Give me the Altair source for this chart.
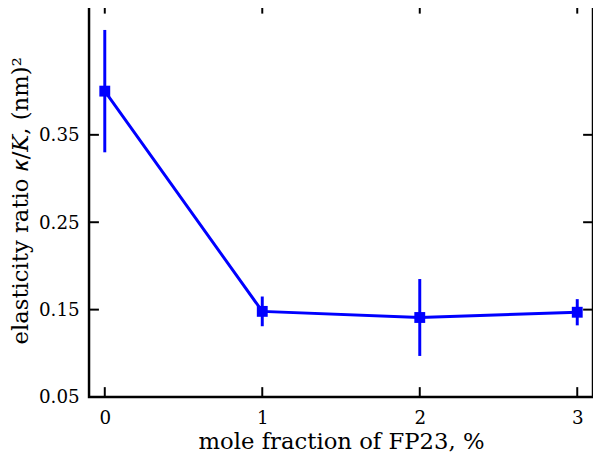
import altair as alt
import pandas as pd

x_vals = [0, 1, 2, 3]
y_vals = [0.400, 0.148, 0.141, 0.147]
y_err = [0.070, 0.017, 0.044, 0.015]

x_ticks = [0, 1, 2, 3]
y_ticks = [0.05, 0.15, 0.25, 0.35]

df = pd.DataFrame({"x": x_vals, "y": y_vals, "err": y_err})
df["lo"] = df["y"] - df["err"]
df["hi"] = df["y"] + df["err"]

W, H = 510, 398
blue = "#0000ff"
FONT = "'DejaVu Serif', DejaVuSerif, 'DejaVu Serif Book', serif"

xs = alt.Scale(domain=[-0.1, 3.1], nice=False, zero=False)
ys = alt.Scale(domain=[0.05, 0.50], nice=False, zero=False)

xaxis = alt.Axis(values=x_ticks, format="d", tickSize=0, labelPadding=12, grid=False,
                 domain=False, labelFont=FONT, labelFontSize=18.5, labelColor="black",
                 titleFont=FONT, titleFontSize=23, titleFontWeight="normal",
                 titleColor="black", titlePadding=4)
yaxis = alt.Axis(values=y_ticks, format=".2f", tickSize=0, labelPadding=10, grid=False,
                 domain=False, labelFont=FONT, labelFontSize=18.5, labelColor="black",
                 titleFont=FONT, titleFontSize=23, titleFontWeight="normal",
                 titleColor="black", titlePadding=6)

base = alt.Chart(df)

line = base.mark_line(color=blue, strokeWidth=3).encode(
    x=alt.X("x:Q", scale=xs, axis=xaxis, title="mole fraction of FP23, %"),
    y=alt.Y("y:Q", scale=ys, axis=yaxis, title="elasticity ratio 𝜅/𝐾,  (nm)²"),
)
err = base.mark_rule(color=blue, strokeWidth=3).encode(
    x="x:Q", y="lo:Q", y2="hi:Q"
)
pts = base.mark_square(color=blue, size=121, opacity=1).encode(x="x:Q", y="y:Q")

xt = pd.DataFrame({"t": x_ticks})
yt = pd.DataFrame({"t": y_ticks})
xb = alt.Chart(xt).mark_rule(color="black", strokeWidth=2).encode(
    x=alt.X("t:Q", scale=xs), y=alt.value(H), y2=alt.value(H - 10))
xtop = alt.Chart(xt).mark_rule(color="black", strokeWidth=2).encode(
    x=alt.X("t:Q", scale=xs), y=alt.value(0), y2=alt.value(10))
yl = alt.Chart(yt).mark_rule(color="black", strokeWidth=2).encode(
    y=alt.Y("t:Q", scale=ys), x=alt.value(0), x2=alt.value(10))
yr = alt.Chart(yt).mark_rule(color="black", strokeWidth=2).encode(
    y=alt.Y("t:Q", scale=ys), x=alt.value(W), x2=alt.value(W - 10))

chart = alt.layer(line, err, pts, xb, xtop, yl, yr).properties(
    width=W, height=H,
    autosize=alt.AutoSizeParams(type="none"),
    padding={"left": 82, "top": -7, "right": 0, "bottom": 57},
    background="white",
).configure_view(stroke="black", strokeWidth=2.5)

chart.save("out.html", embed_options={"renderer": "svg", "actions": False})
